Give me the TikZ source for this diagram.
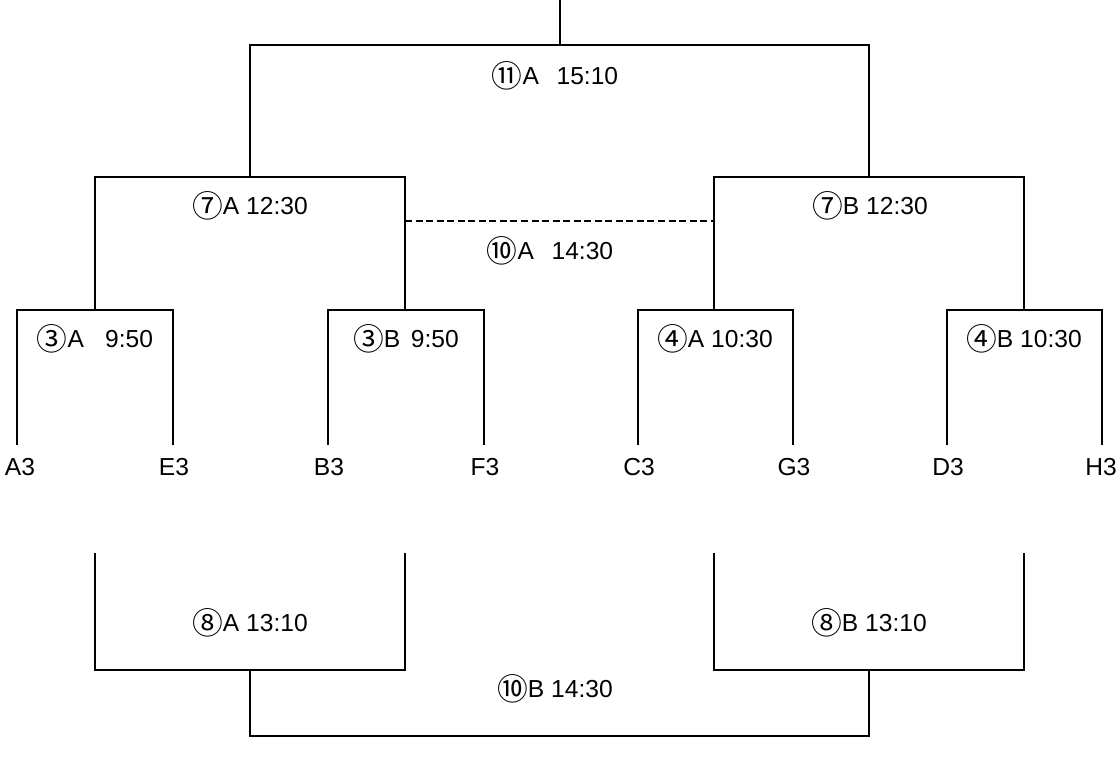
\documentclass[tikz,border=0pt]{standalone}
\usepackage{fontspec}
\setmainfont{Liberation Sans}
\newfontfamily\cjk[Scale=1.25]{Noto Sans CJK JP}
\newcommand{\gno}[1]{\raisebox{-1.8pt}{\cjk #1}}
\usetikzlibrary{positioning}

\begin{document}
\begin{tikzpicture}[x=0.02cm, y=-0.02cm, line width=1.3pt,
    every node/.style={font=\fontsize{14}{16}\selectfont, inner sep=1pt},
    team/.style={anchor=center},
    game/.style={anchor=center}]

      \useasboundingbox (0,0) rectangle (1118,761);

      % Definitions
      \pgfmathsetmacro{\yf}{45}
      \pgfmathsetmacro{\ys}{177}
      \pgfmathsetmacro{\yq}{310}
      \pgfmathsetmacro{\ye}{445}
      \pgfmathsetmacro{\yb}{553}
      \pgfmathsetmacro{\yc}{670}
      \pgfmathsetmacro{\yd}{736}

      % teams
      \node[team] (A3) at (20,467)   {A3};
      \node[team] (E3) at (174,467)  {E3};
      \node[team] (B3) at (329,467)  {B3};
      \node[team] (F3) at (485,467)  {F3};
      \node[team] (C3) at (639,467)  {C3};
      \node[team] (G3) at (794,467)  {G3};
      \node[team] (D3) at (948,467)  {D3};
      \node[team] (H3) at (1101,467) {H3};

      % junctions
      \coordinate (top) at (560,0);
      \coordinate (f)   at (560,\yf);
      \coordinate (sl)  at (250,\ys);
      \coordinate (sr)  at (869,\ys);
      \coordinate (q1)  at (95,\yq);
      \coordinate (q2)  at (405,\yq);
      \coordinate (q3)  at (714,\yq);
      \coordinate (q4)  at (1024,\yq);

      % final
      \draw (top) -- (f);
      \draw (sl) |- (f) -| (sr);

      % semi finals
      \draw (q1) |- (sl) -| (q2);
      \draw (q3) |- (sr) -| (q4);
      \draw[dash pattern=on4pt off2pt] (405,221) -- (714,221);

      % first round
      \draw (17,\ye) |- (q1) -| (173,\ye);
      \draw (328,\ye) |- (q2) -| (484,\ye);
      \draw (638,\ye) |- (q3) -| (793,\ye);
      \draw (947,\ye) |- (q4) -| (1102,\ye);

      % placement games
      \coordinate (pl) at (250,\yc);
      \coordinate (pr) at (869,\yc);
      \draw (95,\yb) |- (pl) -| (405,\yb);
      \draw (714,\yb) |- (pr) -| (1024,\yb);
      \draw (pl) |- (560,\yd) -| (pr);

      % game labels
      \node[game] (g11)  at (555,76)  {\gno{⑪}A\hspace{10pt}15:10};
      \node[game] (g7a)  at (250,206) {\gno{⑦}A 12:30};
      \node[game] (g7b)  at (870,206) {\gno{⑦}B 12:30};
      \node[game] (g10a) at (550,251) {\gno{⑩}A\hspace{10pt}14:30};
      \node[game] (g3a)  at (95,339)  {\gno{③}A\hspace{12pt}9:50};
      \node[game] (g3b)  at (406,339) {\gno{③}B\hspace{6pt}9:50};
      \node[game] (g4a)  at (715,339) {\gno{④}A 10:30};
      \node[game] (g4b)  at (1024,339) {\gno{④}B 10:30};
      \node[game] (g8a)  at (250,623) {\gno{⑧}A 13:10};
      \node[game] (g8b)  at (869,623) {\gno{⑧}B 13:10};
      \node[game] (g10b) at (555,689) {\gno{⑩}B 14:30};
\end{tikzpicture}
\end{document}
